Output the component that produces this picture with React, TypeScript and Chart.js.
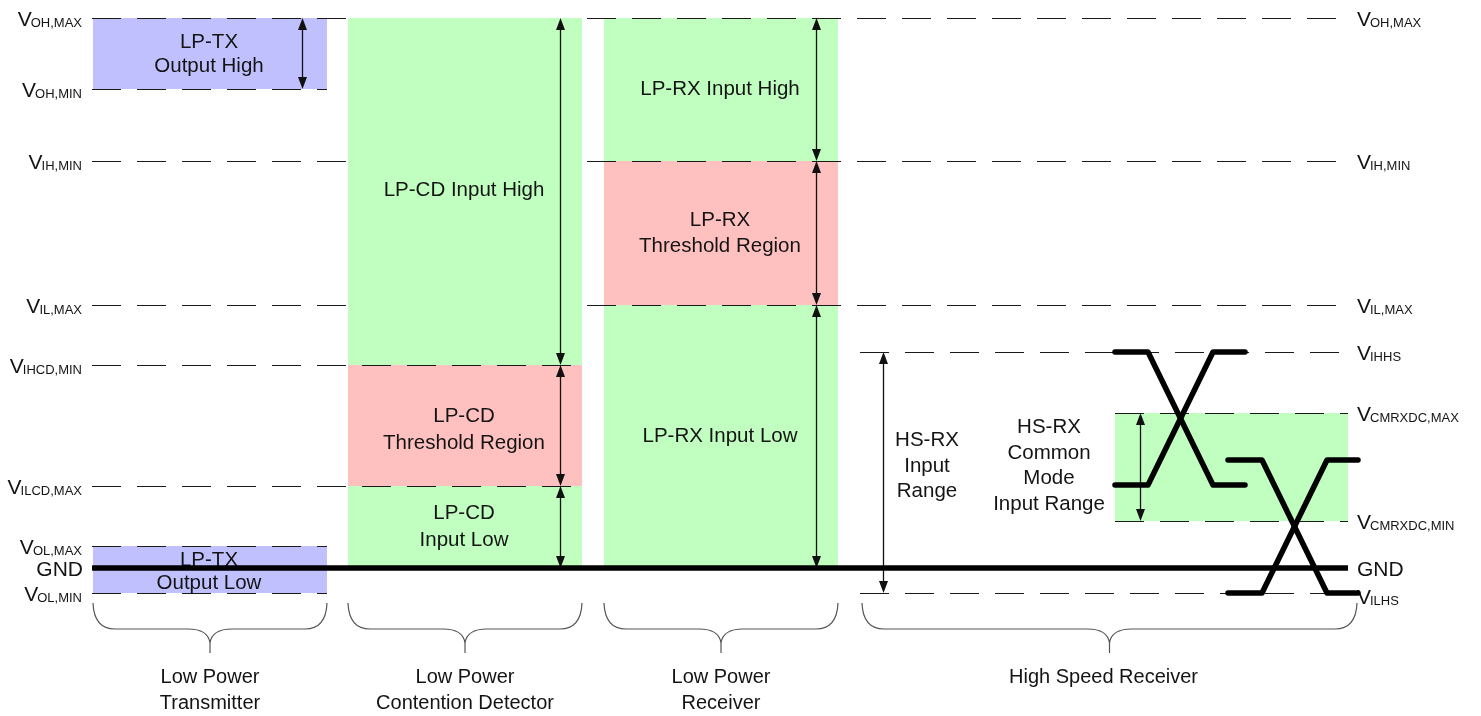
import { useEffect, useRef } from 'react';
import { Chart, registerables } from 'chart.js';

Chart.register(...registerables);

// ---- Signal levels (diagram units, GND = 0, not to scale) ----
const levelSubs = ['OH,MAX', 'OH,MIN', 'IH,MIN', 'IL,MAX', 'IHCD,MIN', 'ILCD,MAX', 'OL,MAX', 'GND', 'OL,MIN', 'IHHS', 'CMRXDC,MAX', 'CMRXDC,MIN', 'ILHS'];
const levelValues = [550, 479, 407, 263, 203, 82, 22, 0, -25, 216, 155, 47, -25];
const levelLeftLabel = [true, true, true, true, true, true, true, true, true, false, false, false, false];
const levelRightLabel = [true, false, true, true, false, false, false, true, false, true, true, true, true];
const levelLineFrom = [92, 92, 92, 92, 92, 92, 92, 92, 92, 860, 1115, 1115, 860];
const levelLineTo = [1348, 327, 1348, 1348, 582, 582, 327, 1348, 327, 1348, 1348, 1348, 1348];
const levelLineLayer = [0, 0, 0, 0, 1, 1, 0, -1, 0, 0, 0, 0, 0];

// ---- Regions (coloured bands) ----
const regionText = [['LP-TX', 'Output High'], ['LP-TX', 'Output Low'], ['LP-CD Input High'], ['LP-CD', 'Threshold Region'], ['LP-CD', 'Input Low'], ['LP-RX Input High'], ['LP-RX', 'Threshold Region'], ['LP-RX Input Low'], []];
const regionFrom = [93, 93, 348, 348, 348, 604, 604, 604, 1115];
const regionTo = [327, 327, 582, 582, 582, 838, 838, 838, 1348];
const regionTop = [550, 22, 550, 203, 82, 550, 407, 263, 155];
const regionBottom = [479, -25, 203, 82, 0, 407, 263, 0, 47];
const regionKind = ['tx', 'tx', 'valid', 'threshold', 'valid', 'valid', 'threshold', 'valid', 'valid'];
const regionLayer = [0, 0, 1, 1, 1, 0, 0, 0, 0];
const regionTextCenter = [514, -3.5, 378, 138.5, 41.5, 479, 335, 132, 0];
const regionTextStep = [24, 23, 26, 27, 27, 26, 26, 26, 26];

// ---- Range arrows ----
const arrowX = [302, 560, 560, 560, 816, 816, 816, 883, 1140];
const arrowTop = [550, 550, 203, 82, 550, 407, 263, 216, 155];
const arrowBottom = [479, 203, 82, 0, 407, 263, 0, -25, 47];

// ---- Free notes ----
const noteLines = [['HS-RX', 'Input', 'Range'], ['HS-RX', 'Common', 'Mode', 'Input Range']];
const noteX = [927, 1049];
const noteCenter = [102, 102];

// ---- Columns (braces + captions) ----
const columnLabels = [['Low Power', 'Transmitter'], ['Low Power', 'Contention Detector'], ['Low Power', 'Receiver'], ['High Speed Receiver']];
const columnFrom = [93, 348, 604, 862];
const columnTo = [327, 582, 838, 1357];
const braceLevels = [-35, -61, -85];
const captionTop = -109;

// ---- HS differential pairs ----
const pairTimes = [[1115, 1148, 1213, 1245], [1228, 1262, 1327, 1358]];
const pairHigh = [216, 108];
const pairLow = [83, -25];

const FONT = '"Liberation Sans", Arial, Helvetica, sans-serif';
const COLORS: Record<string, string> = { tx: '#c0c0ff', valid: '#c0ffc0', threshold: '#ffc0c0' };

export default function App() {
  const ref = useRef<HTMLCanvasElement>(null);

  useEffect(() => {
    const canvas = ref.current!;

    const plugin = {
      id: 'dphyDiagram',
      beforeDraw(chart: any) {
        const c = chart.ctx;
        c.save();
        c.fillStyle = '#ffffff';
        c.fillRect(0, 0, chart.width, chart.height);
        c.restore();
      },
      beforeDatasetsDraw(chart: any) {
        const c: CanvasRenderingContext2D = chart.ctx;
        const xs = chart.scales.x;
        const ys = chart.scales.y;
        const X = (v: number) => xs.getPixelForValue(v);
        const Y = (v: number) => ys.getPixelForValue(v);

        const drawRegions = (layer: number) => {
          for (let i = 0; i < regionFrom.length; i++) {
            if (regionLayer[i] !== layer) continue;
            c.fillStyle = COLORS[regionKind[i]];
            const x0 = X(regionFrom[i]);
            const x1 = X(regionTo[i]);
            const y0 = Y(regionTop[i]);
            const y1 = Y(regionBottom[i]);
            c.fillRect(x0, y0, x1 - x0, y1 - y0);
          }
        };
        const drawLines = (layer: number) => {
          c.save();
          c.strokeStyle = '#1a1a1a';
          c.lineWidth = 1.2;
          c.setLineDash([29, 16]);
          for (let i = 0; i < levelValues.length; i++) {
            if (levelLineLayer[i] !== layer) continue;
            const y = Math.round(Y(levelValues[i])) + 0.5;
            c.beginPath();
            c.moveTo(X(levelLineFrom[i]), y);
            c.lineTo(X(levelLineTo[i]), y);
            c.stroke();
          }
          c.restore();
        };

        drawRegions(0);
        drawLines(0);
        drawRegions(1);
        drawLines(1);

        // region texts
        c.fillStyle = '#141414';
        c.font = `20.5px ${FONT}`;
        c.textAlign = 'center';
        c.textBaseline = 'middle';
        for (let i = 0; i < regionText.length; i++) {
          const lines = regionText[i];
          if (!lines.length) continue;
          const cx = X((regionFrom[i] + regionTo[i]) / 2) - 1;
          const cy = Y(regionTextCenter[i]);
          const step = regionTextStep[i];
          lines.forEach((t, k) => {
            c.fillText(t, cx, cy + (k - (lines.length - 1) / 2) * step);
          });
        }
        for (let i = 0; i < noteLines.length; i++) {
          const lines = noteLines[i];
          lines.forEach((t, k) => {
            c.fillText(t, X(noteX[i]), Y(noteCenter[i]) + (k - (lines.length - 1) / 2) * 25.5);
          });
        }

        // arrows
        c.strokeStyle = '#111';
        c.fillStyle = '#111';
        c.lineWidth = 1.3;
        for (let i = 0; i < arrowX.length; i++) {
          const x = Math.round(X(arrowX[i])) + 0.5;
          const yt = Y(arrowTop[i]);
          const yb = Y(arrowBottom[i]);
          c.beginPath();
          c.moveTo(x, yt + 4);
          c.lineTo(x, yb - 4);
          c.stroke();
          c.beginPath();
          c.moveTo(x, yt);
          c.lineTo(x - 4.5, yt + 12);
          c.lineTo(x + 4.5, yt + 12);
          c.closePath();
          c.fill();
          c.beginPath();
          c.moveTo(x, yb);
          c.lineTo(x - 4.5, yb - 12);
          c.lineTo(x + 4.5, yb - 12);
          c.closePath();
          c.fill();
        }

        // level labels (V + subscript)
        const drawV = (sub: string, x: number, py: number, align: 'left' | 'right') => {
          c.textBaseline = 'alphabetic';
          c.textAlign = 'left';
          if (sub === 'GND') {
            c.font = `21px ${FONT}`;
            const w = c.measureText('GND').width;
            c.fillText('GND', align === 'right' ? x - w : x, py + 8);
            return;
          }
          c.font = `21px ${FONT}`;
          const wv = c.measureText('V').width;
          c.font = `13px ${FONT}`;
          const ws = c.measureText(sub).width;
          const start = align === 'right' ? x - wv - ws : x;
          c.font = `21px ${FONT}`;
          c.fillText('V', start, py + 8);
          c.font = `13px ${FONT}`;
          c.fillText(sub, start + wv - 1, py + 9);
        };
        c.fillStyle = '#141414';
        for (let i = 0; i < levelValues.length; i++) {
          const py = Y(levelValues[i]);
          if (levelLeftLabel[i]) drawV(levelSubs[i], X(83), py, 'right');
          if (levelRightLabel[i]) drawV(levelSubs[i], X(1357), levelSubs[i] === 'ILHS' ? py + 3 : py, 'left');
        }

        // braces + captions
        c.strokeStyle = '#555';
        c.lineWidth = 1.2;
        const [bTop, bMid, bTip] = braceLevels.map(Y);
        for (let i = 0; i < columnFrom.length; i++) {
          const x0 = X(columnFrom[i]);
          const x1 = X(columnTo[i]);
          const xm = (x0 + x1) / 2;
          c.beginPath();
          c.moveTo(x0, bTop);
          c.quadraticCurveTo(x0 + 1, bMid, x0 + 22, bMid);
          c.lineTo(xm - 22, bMid);
          c.quadraticCurveTo(xm - 2, bMid, xm, bTip - 10);
          c.lineTo(xm, bTip);
          c.moveTo(x1, bTop);
          c.quadraticCurveTo(x1 - 1, bMid, x1 - 22, bMid);
          c.lineTo(xm + 22, bMid);
          c.quadraticCurveTo(xm + 2, bMid, xm, bTip - 10);
          c.stroke();

          c.fillStyle = '#141414';
          c.font = `20px ${FONT}`;
          c.textAlign = 'center';
          c.textBaseline = 'middle';
          const cxText = i === 3 ? xm - 6 : xm;
          columnLabels[i].forEach((t, k) => {
            c.fillText(t, cxText, Y(captionTop) + k * 26);
          });
        }
      },
    };

    const datasets: any[] = [
      {
        data: [{ x: levelLineFrom[7], y: levelValues[7] }, { x: levelLineTo[7], y: levelValues[7] }],
        borderColor: '#000',
        borderWidth: 5.5,
        showLine: true,
        pointRadius: 0,
      },
    ];
    pairTimes.forEach((t, i) => {
      const a = [pairHigh[i], pairHigh[i], pairLow[i], pairLow[i]];
      const b = [pairLow[i], pairLow[i], pairHigh[i], pairHigh[i]];
      [a, b].forEach((lv) => {
        datasets.push({
          data: t.map((x, k) => ({ x, y: lv[k] })),
          borderColor: '#000',
          borderWidth: 5.5,
          showLine: true,
          pointRadius: 0,
          borderCapStyle: 'round',
          borderJoinStyle: 'round',
          tension: 0,
        });
      });
    });

    const chart = new Chart(canvas, {
      type: 'scatter',
      data: { datasets },
      options: {
        animation: false,
        responsive: false,
        devicePixelRatio: 1,
        layout: { padding: 0 },
        events: [],
        scales: {
          x: { type: 'linear', min: 0, max: 1481, display: false },
          y: { type: 'linear', min: -148, max: 568, display: false },
        },
        plugins: { legend: { display: false }, tooltip: { enabled: false } },
      },
      plugins: [plugin],
    } as any);

    return () => chart.destroy();
  }, []);

  return (
    <canvas
      ref={ref}
      width={1481}
      height={716}
      style={{ position: 'fixed', left: 0, top: 0, width: 1481, height: 716 }}
    />
  );
}
